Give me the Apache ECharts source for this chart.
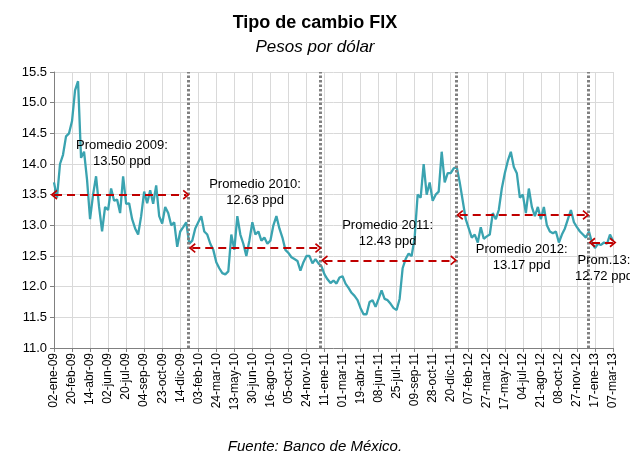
<!DOCTYPE html>
<html>
<head>
<meta charset="utf-8">
<script src="https://cdn.jsdelivr.net/npm/echarts@6/dist/echarts.min.js"></script>
<style>
  html, body { margin: 0; padding: 0; background: #fff; }
  #chart { width: 630px; height: 466px; }
</style>
</head>
<body>
<div id="chart"></div>
<script>
// etiquetas del eje x (una cada 6 puntos)
var tickLabels = ['02-ene-09', '20-feb-09', '14-abr-09', '02-jun-09', '20-jul-09', '04-sep-09', '23-oct-09', '14-dic-09',
  '03-feb-10', '24-mar-10', '13-may-10', '30-jun-10', '16-ago-10', '05-oct-10', '24-nov-10',
  '11-ene-11', '01-mar-11', '19-abr-11', '08-jun-11', '25-jul-11', '09-sep-11', '28-oct-11', '20-dic-11',
  '07-feb-12', '27-mar-12', '17-may-12', '04-jul-12', '21-ago-12', '08-oct-12', '27-nov-12',
  '17-ene-13', '07-mar-13'];
var pointsPerTick = 6;

// tipo de cambio FIX
var fix2009 = [13.70, 13.45, 14.00, 14.15, 14.45, 14.50, 14.70, 15.20, 15.35, 14.10,
  14.20, 13.74, 13.10, 13.50, 13.80, 13.30, 12.90, 13.30, 13.25, 13.60,
  13.40, 13.42, 13.20, 13.80, 13.35, 13.36, 13.10, 12.95, 12.85, 13.15,
  13.55, 13.36, 13.57, 13.35, 13.65, 13.15, 13.03, 13.30, 13.20, 13.00,
  13.05, 12.65, 12.90, 12.97, 13.05];
var fix2010 = [12.70, 12.75, 12.95, 13.05, 13.15, 12.90, 12.85, 12.70, 12.60, 12.40,
  12.30, 12.22, 12.20, 12.25, 12.85, 12.60, 13.15, 12.85, 12.70, 12.50,
  12.75, 13.05, 12.85, 12.90, 12.75, 12.80, 12.70, 12.75, 13.00, 13.15,
  12.95, 12.80, 12.60, 12.55, 12.48, 12.45, 12.42, 12.26, 12.40, 12.50,
  12.50, 12.38, 12.45, 12.38];
var fix2011 = [12.33, 12.20, 12.12, 12.06, 12.10, 12.05, 12.15, 12.17, 12.05, 11.98,
  11.90, 11.85, 11.78, 11.65, 11.55, 11.55, 11.75, 11.78, 11.67, 11.80,
  11.94, 11.80, 11.78, 11.72, 11.65, 11.62, 11.80, 12.30, 12.45, 12.54,
  12.50, 12.80, 13.50, 13.45, 14.00, 13.50, 13.70, 13.40, 13.50, 13.55,
  14.20, 13.70, 13.85, 13.85, 13.93];
var fix2012 = [13.95, 13.70, 13.40, 13.10, 12.95, 12.80, 12.85, 12.72, 12.97, 12.78,
  12.82, 12.85, 13.20, 13.10, 13.25, 13.60, 13.85, 14.05, 14.20, 13.95,
  13.85, 13.45, 13.50, 13.20, 13.60, 13.30, 13.15, 13.30, 13.10, 13.30,
  13.00, 12.90, 12.87, 12.90, 12.72, 12.85, 12.95, 13.10, 13.25, 13.05,
  12.97, 12.90, 12.85, 12.80];
var fix2013 = [12.90, 12.72, 12.63, 12.70, 12.68, 12.72, 12.70, 12.85, 12.75];

// promedios anuales
var yearNames = ['Promedio 2009:', 'Promedio 2010:', 'Promedio 2011:', 'Promedio 2012:', 'Prom.13:'];
var yearAvg = [13.50, 12.63, 12.43, 13.17, 12.72];

var years = [fix2009, fix2010, fix2011, fix2012, fix2013];
var lineData = [];
var yearStart = [];
years.forEach(function (arr) {
  yearStart.push(lineData.length);
  arr.forEach(function (v) { lineData.push([lineData.length, v]); });
});
var lastIdx = lineData.length - 1;

// lineas punteadas de cambio de año
var yearLines = [];
for (var y = 1; y < years.length; y++) {
  yearLines.push({ xAxis: yearStart[y] - 0.3 });
}

// flechas del promedio
var chevron = 'path://M5,0 L10,8.6 L8.6,10 L5,3.8 L1.4,10 L0,8.6 Z';
var avgLines = [];
yearAvg.forEach(function (v, k) {
  var a = k === 0 ? 0 : yearStart[k] + 1;
  var b = k < years.length - 1 ? yearStart[k + 1] - 1 : lastIdx;
  avgLines.push([{ coord: [a, v] }, { coord: [b, v] }]);
});

// posicion de los textos
var notePos = [[22.6, 14.17], [66.9, 13.53], [111, 12.87], [155.6, 12.47], [183, 12.29]];
var notes = yearAvg.map(function (v, k) {
  return {
    coord: notePos[k],
    label: { formatter: yearNames[k] + '\n' + v.toFixed(2) + ' ppd' }
  };
});

var myChart = echarts.init(document.getElementById('chart'));

var option = {
  animation: false,
  textStyle: { fontFamily: 'Liberation Sans, Arial, sans-serif' },
  title: [{
    text: 'Tipo de cambio FIX',
    subtext: 'Pesos por dólar',
    left: 'center',
    top: 9,
    itemGap: 7,
    textStyle: { fontSize: 18, fontWeight: 'bold', color: '#000' },
    subtextStyle: { fontSize: 17, fontStyle: 'italic', color: '#000' }
  }, {
    text: 'Fuente: Banco de México.',
    left: 'center',
    top: 434,
    textStyle: { fontSize: 15, fontStyle: 'italic', fontWeight: 'normal', color: '#000' }
  }],
  grid: { left: 54, right: 17, top: 72, bottom: 118 },
  xAxis: {
    type: 'value',
    min: 0,
    max: lastIdx,
    interval: pointsPerTick,
    axisLine: { lineStyle: { color: '#808080', width: 1 } },
    axisTick: { show: true, length: 4, lineStyle: { color: '#808080' } },
    splitLine: { show: true, lineStyle: { color: '#d9d9d9', width: 1 } },
    axisLabel: {
      rotate: 90,
      margin: 5,
      fontSize: 12,
      color: '#000',
      showMinLabel: true,
      showMaxLabel: true,
      formatter: function (v) { return tickLabels[Math.round(v / pointsPerTick)] || ''; }
    }
  },
  yAxis: {
    type: 'value',
    min: 11,
    max: 15.5,
    interval: 0.5,
    axisLine: { show: true, lineStyle: { color: '#808080', width: 1 } },
    axisTick: { show: true, length: 4, lineStyle: { color: '#808080' } },
    splitLine: { lineStyle: { color: '#d9d9d9', width: 1 } },
    axisLabel: {
      fontSize: 13,
      color: '#000',
      margin: 7,
      formatter: function (v) { return v.toFixed(1); }
    }
  },
  series: [{
    type: 'line',
    data: lineData,
    showSymbol: false,
    symbol: 'none',
    lineStyle: { color: '#3aa3b0', width: 2.3 },
    z: 3,
    markLine: {
      silent: true,
      symbol: 'none',
      label: { show: false },
      lineStyle: { color: '#808080', width: 3, type: [2.5, 2] },
      data: yearLines
    },
    markPoint: {
      silent: true,
      symbol: 'rect',
      symbolSize: 1,
      itemStyle: { color: 'rgba(0,0,0,0)' },
      label: {
        show: true,
        position: 'inside',
        fontSize: 13,
        lineHeight: 16,
        color: '#000',
        align: 'center'
      },
      data: notes
    }
  }, {
    type: 'line',
    data: [],
    z: 4,
    markLine: {
      silent: true,
      symbol: [chevron, chevron],
      symbolSize: [10, 7],
      label: { show: false },
      lineStyle: { color: '#c00000', width: 2, type: [8, 5] },
      data: avgLines
    }
  }]
};

myChart.setOption(option);
</script>
</body>
</html>
